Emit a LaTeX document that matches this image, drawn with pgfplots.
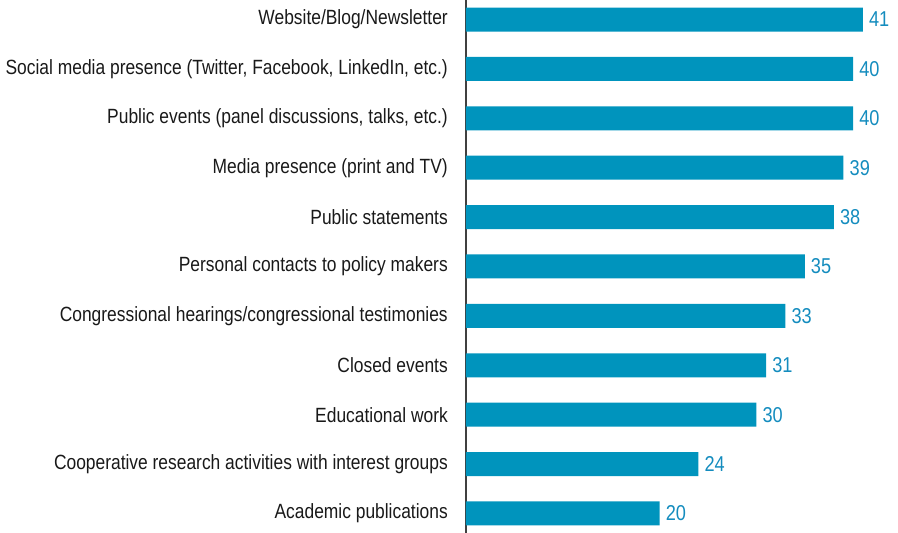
\documentclass[border=0pt]{standalone}
\usepackage{fontspec}
\setmainfont{Liberation Sans}[FakeStretch=0.845]
\usepackage{pgfplots}
\pgfplotsset{compat=1.18}
\definecolor{barblue}{RGB}{0,148,189}
\definecolor{numblue}{RGB}{20,140,190}
\definecolor{txt}{RGB}{25,25,25}
\begin{document}
\begin{tikzpicture}
\path[use as bounding box] (-466pt,0pt) rectangle (432pt,533pt);
\begin{axis}[
  at={(0pt,0pt)}, anchor=south west,
  scale only axis, width=432pt, height=533pt,
  xbar, bar width=24pt,
  xmin=0, xmax=44.63, ymin=-0.395, ymax=10.395,
  hide x axis,
  axis y line*=left,
  y axis line style={draw=black!75, line width=1.3pt, -},
  ytick={0,...,10},
  yticklabels={Academic publications,
    Cooperative research activities with interest groups,
    Educational work,
    Closed events,
    Congressional hearings/congressional testimonies,
    Personal contacts to policy makers,
    Public statements,
    Media presence (print and TV),
    {Public events (panel discussions, talks, etc.)},
    {Social media presence (Twitter, Facebook, LinkedIn, etc.)},
    Website/Blog/Newsletter},
  major tick length=0pt,
  ytick style={draw=none},
  yticklabel style={font=\fontsize{20.6}{23}\selectfont, text=txt, anchor=east, inner sep=0pt, xshift=-18pt},
  /pgf/number format/assume math mode=true,
  nodes near coords,
  every node near coord/.append style={font=\fontsize{21.5}{24}\selectfont, text=numblue, anchor=west, inner sep=0pt, xshift=6pt},
]
\addplot[fill=barblue, draw=none] coordinates {
  (20,0) (24,1) (30,2) (31,3) (33,4) (35,5) (38,6) (39,7) (40,8) (40,9) (41,10)
};
\end{axis}
\end{tikzpicture}
\end{document}
